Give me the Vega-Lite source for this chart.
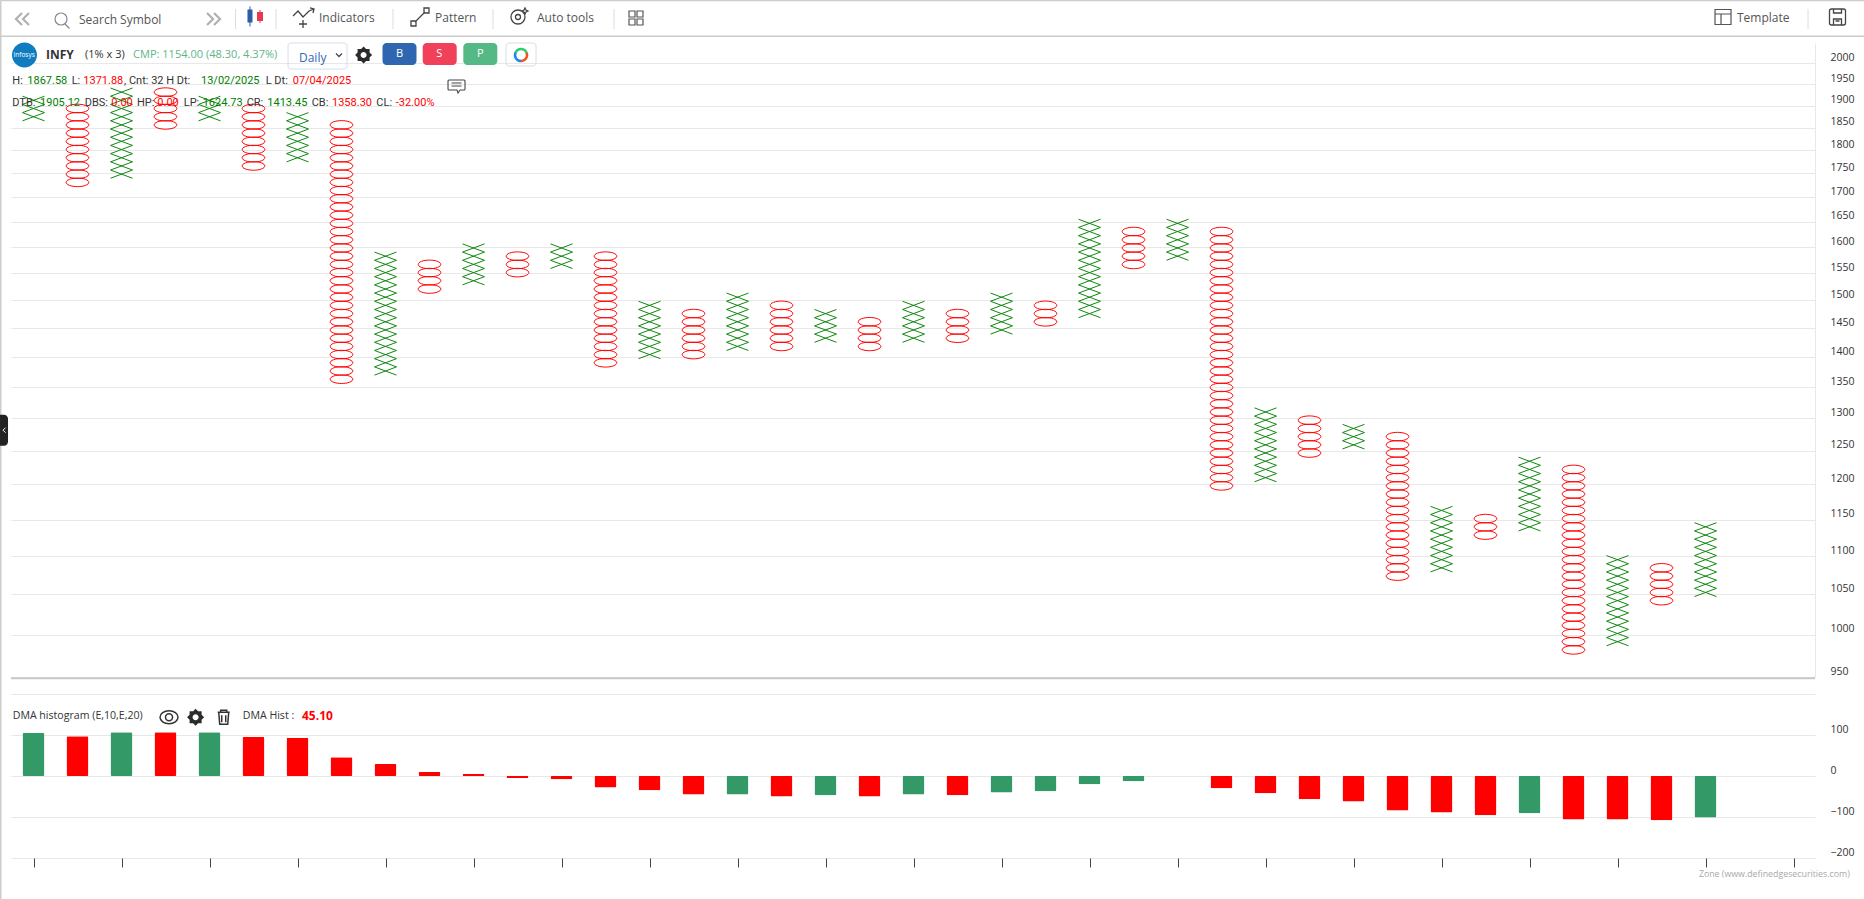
{
"$schema":"https://vega.github.io/schema/vega-lite/v6.json",
"width":1804,"height":858,
"autosize":{"type":"none"},
"padding":{"left":11,"top":0,"right":49,"bottom":41},
"background":"white",
"config":{"view":{"stroke":null},"text":{"font":"Open Sans"},"axis":{"labelFont":"Open Sans"}},
"datasets":{
"bars":[
{"col":0,"trend":"up","value":105},{"col":1,"trend":"down","value":97},{"col":2,"trend":"up","value":107},{"col":3,"trend":"down","value":107},{"col":4,"trend":"up","value":107},{"col":5,"trend":"down","value":95},{"col":6,"trend":"down","value":93},{"col":7,"trend":"down","value":46},{"col":8,"trend":"down","value":29},{"col":9,"trend":"down","value":10},{"col":10,"trend":"down","value":5},{"col":11,"trend":"down","value":-5},{"col":12,"trend":"down","value":-8},{"col":13,"trend":"down","value":-28},{"col":14,"trend":"down","value":-35},{"col":15,"trend":"down","value":-45},{"col":16,"trend":"up","value":-45},{"col":17,"trend":"down","value":-50},{"col":18,"trend":"up","value":-47},{"col":19,"trend":"down","value":-50},{"col":20,"trend":"up","value":-45},{"col":21,"trend":"down","value":-47},{"col":22,"trend":"up","value":-40},{"col":23,"trend":"up","value":-37},{"col":24,"trend":"up","value":-20},{"col":25,"trend":"up","value":-13},{"col":26,"trend":"up","value":0},{"col":27,"trend":"down","value":-30},{"col":28,"trend":"down","value":-42},{"col":29,"trend":"down","value":-57},{"col":30,"trend":"down","value":-62},{"col":31,"trend":"down","value":-84},{"col":32,"trend":"down","value":-89},{"col":33,"trend":"down","value":-96},{"col":34,"trend":"up","value":-91},{"col":35,"trend":"down","value":-106},{"col":36,"trend":"down","value":-106},{"col":37,"trend":"down","value":-108},{"col":38,"trend":"up","value":-101}
],
"boxes":[
{"col":0,"box":"X","price":1912.2},{"col":0,"box":"X","price":1893.3},{"col":0,"box":"X","price":1874.5},
{"col":1,"box":"O","price":1893.3},{"col":1,"box":"O","price":1874.5},{"col":1,"box":"O","price":1856},{"col":1,"box":"O","price":1837.6},{"col":1,"box":"O","price":1819.4},{"col":1,"box":"O","price":1801.4},{"col":1,"box":"O","price":1783.5},{"col":1,"box":"O","price":1765.9},{"col":1,"box":"O","price":1748.4},{"col":1,"box":"O","price":1731.1},
{"col":2,"box":"X","price":1931.3},{"col":2,"box":"X","price":1912.2},{"col":2,"box":"X","price":1893.3},{"col":2,"box":"X","price":1874.5},{"col":2,"box":"X","price":1856},{"col":2,"box":"X","price":1837.6},{"col":2,"box":"X","price":1819.4},{"col":2,"box":"X","price":1801.4},{"col":2,"box":"X","price":1783.5},{"col":2,"box":"X","price":1765.9},{"col":2,"box":"X","price":1748.4},
{"col":3,"box":"O","price":1931.3},{"col":3,"box":"O","price":1912.2},{"col":3,"box":"O","price":1893.3},{"col":3,"box":"O","price":1874.5},{"col":3,"box":"O","price":1856},
{"col":4,"box":"X","price":1912.2},{"col":4,"box":"X","price":1893.3},{"col":4,"box":"X","price":1874.5},
{"col":5,"box":"O","price":1893.3},{"col":5,"box":"O","price":1874.5},{"col":5,"box":"O","price":1856},{"col":5,"box":"O","price":1837.6},{"col":5,"box":"O","price":1819.4},{"col":5,"box":"O","price":1801.4},{"col":5,"box":"O","price":1783.5},{"col":5,"box":"O","price":1765.9},
{"col":6,"box":"X","price":1874.5},{"col":6,"box":"X","price":1856},{"col":6,"box":"X","price":1837.6},{"col":6,"box":"X","price":1819.4},{"col":6,"box":"X","price":1801.4},{"col":6,"box":"X","price":1783.5},
{"col":7,"box":"O","price":1856},{"col":7,"box":"O","price":1837.6},{"col":7,"box":"O","price":1819.4},{"col":7,"box":"O","price":1801.4},{"col":7,"box":"O","price":1783.5},{"col":7,"box":"O","price":1765.9},{"col":7,"box":"O","price":1748.4},{"col":7,"box":"O","price":1731.1},{"col":7,"box":"O","price":1713.9},{"col":7,"box":"O","price":1697},{"col":7,"box":"O","price":1680.2},{"col":7,"box":"O","price":1663.5},{"col":7,"box":"O","price":1647.1},{"col":7,"box":"O","price":1630.8},{"col":7,"box":"O","price":1614.6},{"col":7,"box":"O","price":1598.6},{"col":7,"box":"O","price":1582.8},{"col":7,"box":"O","price":1567.1},{"col":7,"box":"O","price":1551.6},{"col":7,"box":"O","price":1536.3},{"col":7,"box":"O","price":1521},{"col":7,"box":"O","price":1506},{"col":7,"box":"O","price":1491.1},{"col":7,"box":"O","price":1476.3},{"col":7,"box":"O","price":1461.7},{"col":7,"box":"O","price":1447.2},{"col":7,"box":"O","price":1432.9},{"col":7,"box":"O","price":1418.7},{"col":7,"box":"O","price":1404.7},{"col":7,"box":"O","price":1390.8},{"col":7,"box":"O","price":1377},{"col":7,"box":"O","price":1363.4},
{"col":8,"box":"X","price":1582.8},{"col":8,"box":"X","price":1567.1},{"col":8,"box":"X","price":1551.6},{"col":8,"box":"X","price":1536.3},{"col":8,"box":"X","price":1521},{"col":8,"box":"X","price":1506},{"col":8,"box":"X","price":1491.1},{"col":8,"box":"X","price":1476.3},{"col":8,"box":"X","price":1461.7},{"col":8,"box":"X","price":1447.2},{"col":8,"box":"X","price":1432.9},{"col":8,"box":"X","price":1418.7},{"col":8,"box":"X","price":1404.7},{"col":8,"box":"X","price":1390.8},{"col":8,"box":"X","price":1377},
{"col":9,"box":"O","price":1567.1},{"col":9,"box":"O","price":1551.6},{"col":9,"box":"O","price":1536.3},{"col":9,"box":"O","price":1521},
{"col":10,"box":"X","price":1598.6},{"col":10,"box":"X","price":1582.8},{"col":10,"box":"X","price":1567.1},{"col":10,"box":"X","price":1551.6},{"col":10,"box":"X","price":1536.3},
{"col":11,"box":"O","price":1582.8},{"col":11,"box":"O","price":1567.1},{"col":11,"box":"O","price":1551.6},
{"col":12,"box":"X","price":1598.6},{"col":12,"box":"X","price":1582.8},{"col":12,"box":"X","price":1567.1},
{"col":13,"box":"O","price":1582.8},{"col":13,"box":"O","price":1567.1},{"col":13,"box":"O","price":1551.6},{"col":13,"box":"O","price":1536.3},{"col":13,"box":"O","price":1521},{"col":13,"box":"O","price":1506},{"col":13,"box":"O","price":1491.1},{"col":13,"box":"O","price":1476.3},{"col":13,"box":"O","price":1461.7},{"col":13,"box":"O","price":1447.2},{"col":13,"box":"O","price":1432.9},{"col":13,"box":"O","price":1418.7},{"col":13,"box":"O","price":1404.7},{"col":13,"box":"O","price":1390.8},
{"col":14,"box":"X","price":1491.1},{"col":14,"box":"X","price":1476.3},{"col":14,"box":"X","price":1461.7},{"col":14,"box":"X","price":1447.2},{"col":14,"box":"X","price":1432.9},{"col":14,"box":"X","price":1418.7},{"col":14,"box":"X","price":1404.7},
{"col":15,"box":"O","price":1476.3},{"col":15,"box":"O","price":1461.7},{"col":15,"box":"O","price":1447.2},{"col":15,"box":"O","price":1432.9},{"col":15,"box":"O","price":1418.7},{"col":15,"box":"O","price":1404.7},
{"col":16,"box":"X","price":1506},{"col":16,"box":"X","price":1491.1},{"col":16,"box":"X","price":1476.3},{"col":16,"box":"X","price":1461.7},{"col":16,"box":"X","price":1447.2},{"col":16,"box":"X","price":1432.9},{"col":16,"box":"X","price":1418.7},
{"col":17,"box":"O","price":1491.1},{"col":17,"box":"O","price":1476.3},{"col":17,"box":"O","price":1461.7},{"col":17,"box":"O","price":1447.2},{"col":17,"box":"O","price":1432.9},{"col":17,"box":"O","price":1418.7},
{"col":18,"box":"X","price":1476.3},{"col":18,"box":"X","price":1461.7},{"col":18,"box":"X","price":1447.2},{"col":18,"box":"X","price":1432.9},
{"col":19,"box":"O","price":1461.7},{"col":19,"box":"O","price":1447.2},{"col":19,"box":"O","price":1432.9},{"col":19,"box":"O","price":1418.7},
{"col":20,"box":"X","price":1491.1},{"col":20,"box":"X","price":1476.3},{"col":20,"box":"X","price":1461.7},{"col":20,"box":"X","price":1447.2},{"col":20,"box":"X","price":1432.9},
{"col":21,"box":"O","price":1476.3},{"col":21,"box":"O","price":1461.7},{"col":21,"box":"O","price":1447.2},{"col":21,"box":"O","price":1432.9},
{"col":22,"box":"X","price":1506},{"col":22,"box":"X","price":1491.1},{"col":22,"box":"X","price":1476.3},{"col":22,"box":"X","price":1461.7},{"col":22,"box":"X","price":1447.2},
{"col":23,"box":"O","price":1491.1},{"col":23,"box":"O","price":1476.3},{"col":23,"box":"O","price":1461.7},
{"col":24,"box":"X","price":1647.1},{"col":24,"box":"X","price":1630.8},{"col":24,"box":"X","price":1614.6},{"col":24,"box":"X","price":1598.6},{"col":24,"box":"X","price":1582.8},{"col":24,"box":"X","price":1567.1},{"col":24,"box":"X","price":1551.6},{"col":24,"box":"X","price":1536.3},{"col":24,"box":"X","price":1521},{"col":24,"box":"X","price":1506},{"col":24,"box":"X","price":1491.1},{"col":24,"box":"X","price":1476.3},
{"col":25,"box":"O","price":1630.8},{"col":25,"box":"O","price":1614.6},{"col":25,"box":"O","price":1598.6},{"col":25,"box":"O","price":1582.8},{"col":25,"box":"O","price":1567.1},
{"col":26,"box":"X","price":1647.1},{"col":26,"box":"X","price":1630.8},{"col":26,"box":"X","price":1614.6},{"col":26,"box":"X","price":1598.6},{"col":26,"box":"X","price":1582.8},
{"col":27,"box":"O","price":1630.8},{"col":27,"box":"O","price":1614.6},{"col":27,"box":"O","price":1598.6},{"col":27,"box":"O","price":1582.8},{"col":27,"box":"O","price":1567.1},{"col":27,"box":"O","price":1551.6},{"col":27,"box":"O","price":1536.3},{"col":27,"box":"O","price":1521},{"col":27,"box":"O","price":1506},{"col":27,"box":"O","price":1491.1},{"col":27,"box":"O","price":1476.3},{"col":27,"box":"O","price":1461.7},{"col":27,"box":"O","price":1447.2},{"col":27,"box":"O","price":1432.9},{"col":27,"box":"O","price":1418.7},{"col":27,"box":"O","price":1404.7},{"col":27,"box":"O","price":1390.8},{"col":27,"box":"O","price":1377},{"col":27,"box":"O","price":1363.4},{"col":27,"box":"O","price":1349.9},{"col":27,"box":"O","price":1336.5},{"col":27,"box":"O","price":1323.3},{"col":27,"box":"O","price":1310.2},{"col":27,"box":"O","price":1297.2},{"col":27,"box":"O","price":1284.3},{"col":27,"box":"O","price":1271.6},{"col":27,"box":"O","price":1259},{"col":27,"box":"O","price":1246.6},{"col":27,"box":"O","price":1234.2},{"col":27,"box":"O","price":1222},{"col":27,"box":"O","price":1209.9},{"col":27,"box":"O","price":1197.9},
{"col":28,"box":"X","price":1310.2},{"col":28,"box":"X","price":1297.2},{"col":28,"box":"X","price":1284.3},{"col":28,"box":"X","price":1271.6},{"col":28,"box":"X","price":1259},{"col":28,"box":"X","price":1246.6},{"col":28,"box":"X","price":1234.2},{"col":28,"box":"X","price":1222},{"col":28,"box":"X","price":1209.9},
{"col":29,"box":"O","price":1297.2},{"col":29,"box":"O","price":1284.3},{"col":29,"box":"O","price":1271.6},{"col":29,"box":"O","price":1259},{"col":29,"box":"O","price":1246.6},
{"col":30,"box":"X","price":1284.3},{"col":30,"box":"X","price":1271.6},{"col":30,"box":"X","price":1259},
{"col":31,"box":"O","price":1271.6},{"col":31,"box":"O","price":1259},{"col":31,"box":"O","price":1246.6},{"col":31,"box":"O","price":1234.2},{"col":31,"box":"O","price":1222},{"col":31,"box":"O","price":1209.9},{"col":31,"box":"O","price":1197.9},{"col":31,"box":"O","price":1186.1},{"col":31,"box":"O","price":1174.3},{"col":31,"box":"O","price":1162.7},{"col":31,"box":"O","price":1151.2},{"col":31,"box":"O","price":1139.8},{"col":31,"box":"O","price":1128.5},{"col":31,"box":"O","price":1117.3},{"col":31,"box":"O","price":1106.3},{"col":31,"box":"O","price":1095.3},{"col":31,"box":"O","price":1084.5},{"col":31,"box":"O","price":1073.7},
{"col":32,"box":"X","price":1162.7},{"col":32,"box":"X","price":1151.2},{"col":32,"box":"X","price":1139.8},{"col":32,"box":"X","price":1128.5},{"col":32,"box":"X","price":1117.3},{"col":32,"box":"X","price":1106.3},{"col":32,"box":"X","price":1095.3},{"col":32,"box":"X","price":1084.5},
{"col":33,"box":"O","price":1151.2},{"col":33,"box":"O","price":1139.8},{"col":33,"box":"O","price":1128.5},
{"col":34,"box":"X","price":1234.2},{"col":34,"box":"X","price":1222},{"col":34,"box":"X","price":1209.9},{"col":34,"box":"X","price":1197.9},{"col":34,"box":"X","price":1186.1},{"col":34,"box":"X","price":1174.3},{"col":34,"box":"X","price":1162.7},{"col":34,"box":"X","price":1151.2},{"col":34,"box":"X","price":1139.8},
{"col":35,"box":"O","price":1222},{"col":35,"box":"O","price":1209.9},{"col":35,"box":"O","price":1197.9},{"col":35,"box":"O","price":1186.1},{"col":35,"box":"O","price":1174.3},{"col":35,"box":"O","price":1162.7},{"col":35,"box":"O","price":1151.2},{"col":35,"box":"O","price":1139.8},{"col":35,"box":"O","price":1128.5},{"col":35,"box":"O","price":1117.3},{"col":35,"box":"O","price":1106.3},{"col":35,"box":"O","price":1095.3},{"col":35,"box":"O","price":1084.5},{"col":35,"box":"O","price":1073.7},{"col":35,"box":"O","price":1063.1},{"col":35,"box":"O","price":1052.6},{"col":35,"box":"O","price":1042.2},{"col":35,"box":"O","price":1031.8},{"col":35,"box":"O","price":1021.6},{"col":35,"box":"O","price":1011.5},{"col":35,"box":"O","price":1001.5},{"col":35,"box":"O","price":991.6},{"col":35,"box":"O","price":981.8},
{"col":36,"box":"X","price":1095.3},{"col":36,"box":"X","price":1084.5},{"col":36,"box":"X","price":1073.7},{"col":36,"box":"X","price":1063.1},{"col":36,"box":"X","price":1052.6},{"col":36,"box":"X","price":1042.2},{"col":36,"box":"X","price":1031.8},{"col":36,"box":"X","price":1021.6},{"col":36,"box":"X","price":1011.5},{"col":36,"box":"X","price":1001.5},{"col":36,"box":"X","price":991.6},
{"col":37,"box":"O","price":1084.5},{"col":37,"box":"O","price":1073.7},{"col":37,"box":"O","price":1063.1},{"col":37,"box":"O","price":1052.6},{"col":37,"box":"O","price":1042.2},
{"col":38,"box":"X","price":1139.8},{"col":38,"box":"X","price":1128.5},{"col":38,"box":"X","price":1117.3},{"col":38,"box":"X","price":1106.3},{"col":38,"box":"X","price":1095.3},{"col":38,"box":"X","price":1084.5},{"col":38,"box":"X","price":1073.7},{"col":38,"box":"X","price":1063.1},{"col":38,"box":"X","price":1052.6}
],
"lines":[
{"kind":"frame","col":-0.745,"col2":41.6,"price":2158.4,"price2":2158.4},
{"kind":"frame","col":-0.745,"col2":41.6,"price":2066.6,"price2":2066.6},
{"kind":"frame","col":-0.745,"col2":-0.745,"price":2158.7,"price2":725.4},
{"kind":"divider","col":-0.5114,"col2":40.4886,"price":948.6,"price2":948.6},
{"kind":"sep","col":4.591,"col2":4.591,"price":2136.2,"price2":2085},
{"kind":"sep","col":5.511,"col2":5.511,"price":2136.2,"price2":2085},
{"kind":"sep","col":8.17,"col2":8.17,"price":2136.2,"price2":2085},
{"kind":"sep","col":10.443,"col2":10.443,"price":2136.2,"price2":2085},
{"kind":"sep","col":13.193,"col2":13.193,"price":2136.2,"price2":2085},
{"kind":"sep","col":40.33,"col2":40.33,"price":2136.2,"price2":2085}
],
"solidIcons":[
{"icon":"candleBlue","col":4.92,"price":2116.9},
{"icon":"candleRed","col":5.148,"price":2115.6},
{"icon":"logo","col":-0.205,"price":2020.2},
{"icon":"gear","col":7.502,"price":2020.2},
{"icon":"btnB","col":8.318,"price":2022.7},
{"icon":"btnS","col":9.232,"price":2022.7},
{"icon":"btnP","col":10.155,"price":2022.7},
{"icon":"handle","col":-0.67,"price":1281.6},
{"icon":"gear","col":3.684,"price":904.8}
],
"outlineIcons":[
{"icon":"backLeft","col":-0.239,"price":2110.5},
{"icon":"search","col":0.648,"price":2107.9},
{"icon":"backRight","col":4.08,"price":2110.5},
{"icon":"indicators","col":6.148,"price":2115.6},
{"icon":"pattern","col":8.784,"price":2115.6},
{"icon":"autotools","col":11.011,"price":2115.6},
{"icon":"layout","col":13.693,"price":2113},
{"icon":"template","col":38.398,"price":2115.6},
{"icon":"save","col":41,"price":2115.6},
{"icon":"dailyBox","col":6.455,"price":2017.8},
{"icon":"dailyChevron","col":6.943,"price":2020.2},
{"icon":"ringBox","col":11.08,"price":2021.5},
{"icon":"ringGreen","col":11.08,"price":2020.2},
{"icon":"ringBlue","col":11.08,"price":2020.2},
{"icon":"ringRed","col":11.08,"price":2020.2},
{"icon":"comment","col":9.614,"price":1945.7},
{"icon":"eye","col":3.08,"price":904.8},
{"icon":"trash","col":4.323,"price":904.8},
{"icon":"handleChevron","col":-0.67,"price":1281.6}
],
"notes":[
{"note":"Search Symbol","tone":"grey","style":"tool","col":1.034,"price":2109},
{"note":"Indicators","tone":"grey","style":"tool","col":6.489,"price":2113},
{"note":"Pattern","tone":"grey","style":"tool","col":9.125,"price":2113},
{"note":"Auto tools","tone":"grey","style":"tool","col":11.443,"price":2113},
{"note":"Template","tone":"grey","style":"tool","col":38.716,"price":2113},
{"note":"Infosys","tone":"white","style":"tiny","col":-0.457,"price":2020.2},
{"note":"(1% x 3)","tone":"dark","style":"head","col":1.17,"price":2020.2},
{"note":"CMP: 1154.00 (48.30, 4.37%)","tone":"cmp","style":"head","col":2.261,"price":2020.2},
{"note":"Daily","tone":"blue","style":"tool","col":6.034,"price":2014.1},
{"note":"B","tone":"white","style":"head","col":8.239,"price":2022.7},
{"note":"S","tone":"white","style":"head","col":9.155,"price":2022.7},
{"note":"P","tone":"white","style":"head","col":10.077,"price":2022.7},
{"note":"H:","tone":"dark","style":"stat","col":-0.482,"price":1956.8},
{"note":"1867.58","tone":"green","style":"stat","col":-0.141,"price":1956.8},
{"note":"L:","tone":"dark","style":"stat","col":0.868,"price":1956.8},
{"note":"1371.88","tone":"red","style":"stat","col":1.132,"price":1956.8},
{"note":", Cnt: 32 H Dt:","tone":"dark","style":"stat","col":2.057,"price":1956.8},
{"note":"13/02/2025","tone":"green","style":"stat","col":3.807,"price":1956.8},
{"note":"L Dt:","tone":"dark","style":"stat","col":5.277,"price":1956.8},
{"note":"07/04/2025","tone":"red","style":"stat","col":5.891,"price":1956.8},
{"note":"DTB:","tone":"dark","style":"stat","col":-0.482,"price":1905.2},
{"note":"1905.12","tone":"green","style":"stat","col":0.148,"price":1905.2},
{"note":"DBS:","tone":"dark","style":"stat","col":1.164,"price":1905.2},
{"note":"0.00","tone":"red","style":"stat","col":1.768,"price":1905.2},
{"note":"HP:","tone":"dark","style":"stat","col":2.352,"price":1905.2},
{"note":"0.00","tone":"red","style":"stat","col":2.814,"price":1905.2},
{"note":"LP:","tone":"dark","style":"stat","col":3.414,"price":1905.2},
{"note":"1624.73","tone":"green","style":"stat","col":3.845,"price":1905.2},
{"note":"CR:","tone":"dark","style":"stat","col":4.845,"price":1905.2},
{"note":"1413.45","tone":"green","style":"stat","col":5.314,"price":1905.2},
{"note":"CB:","tone":"dark","style":"stat","col":6.323,"price":1905.2},
{"note":"1358.30","tone":"red","style":"stat","col":6.784,"price":1905.2},
{"note":"CL:","tone":"dark","style":"stat","col":7.791,"price":1905.2},
{"note":"-32.00%","tone":"red","style":"stat","col":8.232,"price":1905.2},
{"note":"DMA histogram (E,10,E,20)","tone":"dark","style":"hist","col":-0.473,"price":905.8},
{"note":"DMA Hist :","tone":"dark","style":"hist","col":4.755,"price":905.8},
{"note":"Zone (www.definedgesecurities.com)","tone":"faint","style":"zone","col":37.85,"price":748}
],
"boldNotes":[
{"note":"INFY","tone":"dark","col":0.284,"price":2021.5},
{"note":"45.10","tone":"red","col":6.102,"price":905.8}
]
},
"encoding":{
"x":{"field":"col","type":"quantitative","scale":{"domain":[-0.5114,40.4886],"nice":false,"zero":false,"padding":0},
"axis":{"title":null,"values":[0,2,4,6,8,10,12,14,16,18,20,22,24,26,28,30,32,34,36,38,40],"labels":false,"domain":false,"grid":false,"tickColor":"#444444","tickSize":9,"tickWidth":1}}
},
"layer":[
{"data":{"name":"lines"},"mark":{"type":"rule"},
"encoding":{
"x2":{"field":"col2"},
"y":{"field":"price","type":"quantitative","scale":{"type":"log","domain":[950,2049.9],"range":[677,43],"nice":false},
"axis":{"orient":"right","title":null,"values":[950,1000,1050,1100,1150,1200,1250,1300,1350,1400,1450,1500,1550,1600,1650,1700,1750,1800,1850,1900,1950,2000],"format":"d","grid":true,"gridColor":"#e8e8e8","gridWidth":1,"ticks":false,"domain":true,"domainColor":"#e8e8e8","labelColor":"#333333","labelFontSize":10.5,"labelPadding":15,"labelOffset":-6,"labelOverlap":false,"labelBound":false,"labelFlush":false}},
"y2":{"field":"price2"},
"color":{"field":"kind","type":"nominal","legend":null,"scale":{"domain":["frame","divider","sep"],"range":["#cccccc","#c8c8c8","#dddddd"]}},
"strokeWidth":{"field":"kind","type":"ordinal","legend":null,"scale":{"type":"ordinal","domain":["frame","divider","sep"],"range":[1.5,2,1]}}
}},
{"data":{"name":"bars"},"mark":{"type":"bar","orient":"vertical","width":22,"cornerRadius":1.5},
"encoding":{
"y":{"field":"value","type":"quantitative","scale":{"domain":[-200,200],"range":[858,694],"nice":false},
"axis":{"orient":"right","title":null,"values":[200,100,0,-100,-200],"labelExpr":"datum.value == 200 ? '' : datum.label","format":"d","grid":true,"gridColor":"#e8e8e8","gridWidth":1,"ticks":false,"domain":false,"labelColor":"#333333","labelFontSize":10.5,"labelPadding":15,"labelOffset":-6,"labelOverlap":false,"labelBound":false,"labelFlush":false}},
"color":{"field":"trend","type":"nominal","legend":null,"scale":{"domain":["up","down"],"range":["#339966","#ff0000"]}}
}},
{"data":{"name":"boxes"},"mark":{"type":"point","filled":false,"size":484,"opacity":1,"strokeWidth":1},
"encoding":{
"y":{"field":"price","type":"quantitative","axis":null,"scale":{"type":"log","domain":[950,2049.9],"range":[677,43],"nice":false}},
"color":{"field":"box","type":"nominal","legend":null,"scale":{"domain":["X","O"],"range":["#118811","#ff0000"]}},
"shape":{"field":"box","type":"nominal","legend":null,"scale":{"domain":["X","O"],"range":["M-1,-0.373L1,0.373M-1,0.373L1,-0.373","M-1.03,0C-1.03,-0.215,-0.569,-0.39,0,-0.39C0.569,-0.39,1.03,-0.215,1.03,0C1.03,0.215,0.569,0.39,0,0.39C-0.569,0.39,-1.03,0.215,-1.03,0Z"]}}
}},
{"data":{"name":"solidIcons"},"mark":{"type":"point","filled":true,"size":4,"opacity":1},
"encoding":{
"y":{"field":"price","type":"quantitative","axis":null,"scale":{"type":"log","domain":[950,2049.9],"range":[677,43],"nice":false}},
"color":{"field":"icon","type":"nominal","legend":null,"scale":{"domain":["candleBlue","candleRed","logo","gear","btnB","btnS","btnP","handle"],"range":["#2a5caa","#e8384f","#0f7cc0","#2b2b2b","#2f66b0","#f0405a","#55b985","#222222"]}},
"shape":{"field":"icon","type":"nominal","legend":null,"scale":{"domain":["candleBlue","candleRed","logo","gear","btnB","btnS","btnP","handle"],"range":[
"M-2.5,-7h5v13h-5zM-0.5,-10h1v20h-1z",
"M-3,-5h6v9h-6zM-0.5,-7h1v13h-1z",
"M-12.5,0a12.5,12.5 0 1,1 25,0a12.5,12.5 0 1,1 -25,0z",
"M8.5,0L6,2.5L6,6L2.5,6L0,8.5L-2.5,6L-6,6L-6,2.5L-8.5,0L-6,-2.5L-6,-6L-2.5,-6L0,-8.5L2.5,-6L6,-6L6,-2.5ZM3,0a3,3 0 1,0 -6,0a3,3 0 1,0 6,0z",
"M-13,-11h26a4,4 0 0 1 4,4v14a4,4 0 0 1 -4,4h-26a4,4 0 0 1 -4,-4v-14a4,4 0 0 1 4,-4z",
"M-13,-11h26a4,4 0 0 1 4,4v14a4,4 0 0 1 -4,4h-26a4,4 0 0 1 -4,-4v-14a4,4 0 0 1 4,-4z",
"M-13,-11h26a4,4 0 0 1 4,4v14a4,4 0 0 1 -4,4h-26a4,4 0 0 1 -4,-4v-14a4,4 0 0 1 4,-4z",
"M-4,-15.5h4a4,4 0 0 1 4,4v23a4,4 0 0 1 -4,4h-4z"
]}}
}},
{"data":{"name":"outlineIcons"},"mark":{"type":"point","filled":false,"size":4,"opacity":1},
"encoding":{
"y":{"field":"price","type":"quantitative","axis":null,"scale":{"type":"log","domain":[950,2049.9],"range":[677,43],"nice":false}},
"color":{"field":"icon","type":"nominal","legend":null,"scale":{"domain":["backLeft","search","backRight","indicators","pattern","autotools","layout","template","save","dailyBox","dailyChevron","ringBox","ringGreen","ringBlue","ringRed","comment","eye","trash","handleChevron"],"range":["#b0b0b0","#888888","#b0b0b0","#444444","#444444","#444444","#555555","#555555","#444444","#d9ddec","#444444","#dddddd","#2ecc71","#1e88e5","#f4511e","#444444","#333333","#333333","#ffffff"]}},
"shape":{"field":"icon","type":"nominal","legend":null,"scale":{"domain":["backLeft","search","backRight","indicators","pattern","autotools","layout","template","save","dailyBox","dailyChevron","ringBox","ringGreen","ringBlue","ringRed","comment","eye","trash","handleChevron"],"range":[
"M-1,-6L-7,0L-1,6M6,-6L0,0L6,6",
"M-7,-1a6,6 0 1,1 12,0a6,6 0 1,1 -12,0M3,4L7.5,8.5",
"M1,-6L7,0L1,6M-6,-6L0,0L-6,6",
"M-11,-1L-6,-6L-1,0L5,-6L10,-8M6,-9L10,-8L9,-4M-1,3V11M-5,7H3",
"M-5,5L5,-5M-9,4h5v5h-5zM4,-9h5v5h-5z",
"M-7,0a7,7 0 1,1 14,0a7,7 0 1,1 -14,0M-2.5,0a2.5,2.5 0 1,1 5,0a2.5,2.5 0 1,1 -5,0M7,-9l1,2l2,1l-2,1l-1,2l-1,-2l-2,-1l2,-1z",
"M-7,-7h6v6h-6zM1,-7h6v6h-6zM-7,1h6v6h-6zM1,1h6v6h-6z",
"M-8,-7.5h16v15h-16zM-8,-3h16M-2,-3v10.5",
"M-6,-8h12a2,2 0 0 1 2,2v12a2,2 0 0 1 -2,2h-12a2,2 0 0 1 -2,-2v-12a2,2 0 0 1 2,-2zM-4,-8v4h8v-4M-4,8v-6h8v6M-2,4h4",
"M-26.5,-13h53a3,3 0 0 1 3,3v20a3,3 0 0 1 -3,3h-53a3,3 0 0 1 -3,-3v-20a3,3 0 0 1 3,-3z",
"M-3,-1.5L0,1.5L3,-1.5",
"M-12,-11.5h24a3,3 0 0 1 3,3v17a3,3 0 0 1 -3,3h-24a3,3 0 0 1 -3,-3v-17a3,3 0 0 1 3,-3z",
"M-5.2,-3A6,6 0 0 1 5.6,-2.2",
"M-5.2,-3A6,6 0 0 0 0,6",
"M0,6A6,6 0 0 0 5.6,-2.2",
"M-7.5,-6h15a1,1 0 0 1 1,1v8a1,1 0 0 1 -1,1h-4l-2,3l-1,-3h-8a1,1 0 0 1 -1,-1v-8a1,1 0 0 1 1,-1zM-5,-3h10M-5,0h10",
"M-9,0a9,6.5 0 1,1 18,0a9,6.5 0 1,1 -18,0M-3.5,0a3.5,3.5 0 1,1 7,0a3.5,3.5 0 1,1 -7,0",
"M-6,-5h12M-3,-5v-2h6v2M-5,-5l1,12h8l1,-12M-2,-2v7M2,-2v7",
"M1.5,-2.5L-1,0L1.5,2.5"
]}},
"strokeWidth":{"field":"icon","type":"ordinal","legend":null,"scale":{"type":"ordinal","domain":["backLeft","search","backRight","indicators","pattern","autotools","layout","template","save","dailyBox","dailyChevron","ringBox","ringGreen","ringBlue","ringRed","comment","eye","trash","handleChevron"],"range":[2.2,1.2,2.2,1.3,1.3,1.3,1.2,1.2,1.3,1,1.2,1,2.5,2.5,2.5,1.1,1.5,1.5,1]}}
}},
{"data":{"name":"notes"},"transform":[{"filter":"datum.style != 'stat'"}],"mark":{"type":"text","align":"left","baseline":"middle"},
"encoding":{
"y":{"field":"price","type":"quantitative","axis":null,"scale":{"type":"log","domain":[950,2049.9],"range":[677,43],"nice":false}},
"text":{"field":"note"},
"color":{"field":"tone","type":"nominal","legend":null,"scale":{"domain":["dark","grey","green","red","cmp","blue","white","faint"],"range":["#333333","#555555","#008000","#ff0000","#5fb48a","#3366bb","#ffffff","#a8a8a8"]}},
"size":{"field":"style","type":"ordinal","legend":null,"scale":{"type":"ordinal","domain":["tool","head","hist","tiny","zone"],"range":[12,11.05,10.6,6.5,8.8]}}
}},
{"data":{"name":"notes"},"transform":[{"filter":"datum.style == 'stat'"}],"mark":{"type":"text","align":"left","baseline":"middle","font":"Roboto","fontSize":11},
"encoding":{
"y":{"field":"price","type":"quantitative","axis":null,"scale":{"type":"log","domain":[950,2049.9],"range":[677,43],"nice":false}},
"text":{"field":"note"},
"color":{"field":"tone","type":"nominal","legend":null,"scale":{"domain":["dark","green","red"],"range":["#333333","#008000","#ff0000"]}}
}},
{"data":{"name":"boldNotes"},"mark":{"type":"text","align":"left","baseline":"middle","fontWeight":"bold","fontSize":12},
"encoding":{
"y":{"field":"price","type":"quantitative","axis":null,"scale":{"type":"log","domain":[950,2049.9],"range":[677,43],"nice":false}},
"text":{"field":"note"},
"color":{"field":"tone","type":"nominal","legend":null,"scale":{"domain":["dark","red"],"range":["#333333","#ff0000"]}}
}}
],
"resolve":{"scale":{"y":"independent","color":"independent","shape":"independent","size":"independent","strokeWidth":"independent"},"axis":{"y":"independent"}}
}
